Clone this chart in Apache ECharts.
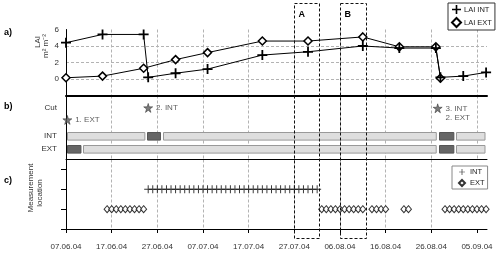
<!DOCTYPE html>
<html>
<head>
<meta charset="utf-8">
<script src="https://cdn.jsdelivr.net/npm/echarts@6/dist/echarts.min.js"></script>
<style>
  html, body { margin: 0; padding: 0; background: #fff; }
  #chart { width: 500px; height: 255px; }
</style>
</head>
<body>
<div id="chart"></div>
<script>
// all x values are days counted from 07.06.04
const startDate = Date.UTC(2004, 5, 7)
const dayMax = 92.2
const tickDays = [0, 10, 20, 30, 40, 50, 60, 70, 80, 90]

// a) LAI
const laiIntDays = [0, 8, 17, 18, 24, 31, 43, 53, 65, 73, 81, 82, 87, 92]
const laiIntValues = [4.4, 5.4, 5.4, 0.2, 0.7, 1.2, 2.9, 3.3, 4.0, 3.75, 3.75, 0.2, 0.35, 0.8]
const laiExtDays = [0, 8, 17, 24, 31, 43, 53, 65, 73, 81, 82]
const laiExtValues = [0.15, 0.35, 1.3, 2.35, 3.2, 4.6, 4.6, 5.1, 3.9, 3.9, 0.1]

// b) cuts and periods (dark = period right after a cut)
const rowNames = ['EXT', 'INT', 'Cut']
const rowLevels = [1.3, 3.0, 6.45]
const cutDays = [0.3, 18, 81.4]
const cutLevels = [4.95, 6.45, 6.4]
const cutLabels = ['1. EXT', '2. INT', '3. INT\n2. EXT']
const intPeriodStarts = [0, 17.6, 21.1, 81.5, 85.3]
const intPeriodEnds = [17.6, 21.1, 81.5, 85.3, dayMax]
const intPeriodDark = [0, 1, 0, 1, 0]
const extPeriodStarts = [0, 3.6, 81.5, 85.3]
const extPeriodEnds = [3.6, 81.5, 85.3, dayMax]
const extPeriodDark = [1, 0, 1, 0]

// c) measurement location
const measIntDays = [18, 19, 20, 21, 22, 23, 24, 25, 26, 27, 28, 29, 30, 31, 32, 33, 34, 35, 36,
  37, 38, 39, 40, 41, 42, 43, 44, 45, 46, 47, 48, 49, 50, 51, 52, 53, 54, 55]
const measExtDays = [9, 10, 11, 12, 13, 14, 15, 16, 17,
  56, 57, 58, 59, 60, 61, 62, 63, 64, 65,
  67, 68, 69, 70,
  74, 75,
  83, 84, 85, 86, 87, 88, 89, 90, 91, 92]

// highlighted periods
const boxNames = ['A', 'B']
const boxStarts = [50, 60]
const boxEnds = [55.5, 65.7]

const font = 'Liberation Sans, Arial, sans-serif'
const gridLine = { show: true, showMinLine: false, showMaxLine: false, lineStyle: { color: '#b3b3b3', type: [3, 2], width: 1 } }
const plusThick = 'path://M4.1,0H5.9V4.1H10V5.9H5.9V10H4.1V5.9H0V4.1H4.1Z'
const plusThin = 'path://M4.4,0H5.6V4.4H10V5.6H5.6V10H4.4V5.6H0V4.4H4.4Z'
const star = 'path://M50,0L61,35L98,35L68,57L79,91L50,70L21,91L32,57L2,35L39,35Z'

function pad(n) {
  return n < 10 ? '0' + n : '' + n
}
function dayLabel(v) {
  const d = new Date(startDate + v * 86400000)
  return pad(d.getUTCDate()) + '.' + pad(d.getUTCMonth() + 1) + '.' + String(d.getUTCFullYear()).slice(2)
}

function xAxisFor(gridIndex, extra) {
  return Object.assign({
    type: 'value',
    gridIndex: gridIndex,
    min: 0,
    max: dayMax,
    interval: 10,
    axisLine: { onZero: false, lineStyle: { color: '#000', width: 1 } },
    axisTick: { show: false },
    axisLabel: { show: false },
    splitLine: gridLine
  }, extra)
}

const periodData = []
intPeriodStarts.forEach((s, i) => periodData.push([rowLevels[1], s, intPeriodEnds[i], intPeriodDark[i]]))
extPeriodStarts.forEach((s, i) => periodData.push([rowLevels[0], s, extPeriodEnds[i], extPeriodDark[i]]))

const chart = echarts.init(document.getElementById('chart'))

chart.setOption({
  animation: false,
  textStyle: { fontFamily: font },
  grid: [
    { left: 66, right: 13, top: 29.5, height: 66 },
    { left: 66, right: 13, top: 95.5, height: 64 },
    { left: 66, right: 13, top: 159.5, height: 69.5 }
  ],
  xAxis: [
    xAxisFor(0, { axisLine: { onZero: false, lineStyle: { color: '#000', width: 2 } } }),
    xAxisFor(1),
    xAxisFor(2, {
      axisTick: { show: true, customValues: tickDays, length: 4, lineStyle: { color: '#000' } },
      axisLabel: {
        show: true,
        customValues: tickDays,
        fontSize: 8,
        color: '#333',
        margin: 14,
        formatter: dayLabel
      }
    })
  ],
  yAxis: [
    {
      type: 'value',
      gridIndex: 0,
      min: -2,
      max: 6,
      interval: 2,
      axisLine: { show: true, lineStyle: { color: '#000' } },
      axisTick: { show: false },
      axisLabel: { fontSize: 8, color: '#333', margin: 7, formatter: v => (v < 0 ? '' : v) },
      splitLine: gridLine
    },
    {
      type: 'value',
      gridIndex: 1,
      min: 0,
      max: 8,
      axisLine: { show: true, lineStyle: { color: '#000' } },
      axisTick: { show: false },
      axisLabel: {
        customValues: rowLevels,
        fontSize: 8,
        color: '#333',
        margin: 9,
        formatter: v => rowNames[rowLevels.indexOf(v)]
      },
      splitLine: { show: false }
    },
    {
      type: 'value',
      gridIndex: 2,
      min: 0,
      max: 3.5,
      axisLine: { show: true, lineStyle: { color: '#000' } },
      axisTick: { show: true, customValues: [0, 1, 2, 3], length: 5, lineStyle: { color: '#000' } },
      axisLabel: { show: false },
      splitLine: { show: false }
    }
  ],
  legend: [
    {
      left: 448,
      top: 3,
      orient: 'vertical',
      padding: [2, 3, 2, 3],
      itemGap: 3,
      itemWidth: 9,
      itemHeight: 9,
      borderColor: '#333',
      borderWidth: 1,
      backgroundColor: '#fff',
      textStyle: { fontSize: 7.5, color: '#222', padding: [0, 0, 0, -2] },
      data: [
        { name: 'LAI INT', icon: plusThick },
        { name: 'LAI EXT', icon: 'diamond' }
      ]
    },
    {
      left: 452,
      top: 166,
      orient: 'vertical',
      padding: [2, 3, 2, 6],
      itemGap: 3,
      itemWidth: 6,
      itemHeight: 6,
      borderColor: '#888',
      borderWidth: 1,
      backgroundColor: '#fff',
      textStyle: { fontSize: 7.5, color: '#222' },
      data: [
        { name: 'INT', icon: plusThin },
        { name: 'EXT', icon: 'diamond' }
      ]
    }
  ],
  series: [
    {
      name: 'LAI INT',
      type: 'line',
      xAxisIndex: 0,
      yAxisIndex: 0,
      data: laiIntDays.map((d, i) => [d, laiIntValues[i]]),
      symbol: plusThick,
      symbolSize: 10,
      itemStyle: { color: '#000' },
      lineStyle: { color: '#000', width: 1 },
      z: 3
    },
    {
      name: 'LAI EXT',
      type: 'line',
      xAxisIndex: 0,
      yAxisIndex: 0,
      data: laiExtDays.map((d, i) => [d, laiExtValues[i]]),
      symbol: 'diamond',
      symbolSize: 8,
      itemStyle: { color: '#fff', borderColor: '#000', borderWidth: 1.5 },
      lineStyle: { color: '#000', width: 1 },
      z: 2
    },
    {
      name: 'periods',
      type: 'custom',
      xAxisIndex: 1,
      yAxisIndex: 1,
      encode: { x: [1, 2], y: 0 },
      data: periodData,
      renderItem(params, api) {
        const y = api.value(0)
        const p0 = api.coord([api.value(1), y])
        const p1 = api.coord([api.value(2), y])
        const h = api.size([0, 0.95])[1]
        const dark = api.value(3) === 1
        return {
          type: 'rect',
          shape: { x: Math.round(p0[0]) + 1.5, y: Math.round(p0[1] - h / 2) + 0.5, width: p1[0] - p0[0] - 3, height: h },
          style: { fill: dark ? '#666' : '#dedede', stroke: dark ? '#555' : '#999', lineWidth: 1 }
        }
      }
    },
    {
      name: 'Cut',
      type: 'scatter',
      xAxisIndex: 1,
      yAxisIndex: 1,
      symbol: star,
      symbolSize: 9,
      itemStyle: { color: '#5a5a5a', borderColor: '#222', borderWidth: 0.6 },
      data: cutDays.map((d, i) => ({
        value: [d, cutLevels[i]],
        label: {
          show: true,
          position: 'right',
          distance: 3,
          formatter: cutLabels[i],
          fontSize: 8,
          lineHeight: 9,
          color: '#333',
          offset: i === 2 ? [0, 4.5] : [0, 0]
        }
      }))
    },
    {
      name: 'INT',
      type: 'scatter',
      xAxisIndex: 2,
      yAxisIndex: 2,
      symbol: plusThin,
      symbolSize: 8,
      itemStyle: { color: '#000' },
      data: measIntDays.map(d => [d, 2])
    },
    {
      name: 'EXT',
      type: 'scatter',
      xAxisIndex: 2,
      yAxisIndex: 2,
      symbol: 'diamond',
      symbolSize: [6, 7],
      itemStyle: { color: '#fff', borderColor: '#000', borderWidth: 1 },
      data: measExtDays.map(d => [d, 1])
    }
  ]
})

// texts and the dashed boxes A / B
function addGraphics() {
  const elements = []
  const panelLabels = [['a)', 33], ['b)', 107], ['c)', 181]]
  panelLabels.forEach(p => {
    elements.push({
      type: 'text', x: 4, y: p[1],
      style: { text: p[0], fontSize: 9, fontWeight: 'bold', fontFamily: font, fill: '#000', verticalAlign: 'middle' }
    })
  })
  const axisNames = [['LAI', 38, 42], ['m² m⁻²', 46, 46], ['Measurement', 31, 188], ['location', 40, 193]]
  axisNames.forEach(n => {
    elements.push({
      type: 'text', x: n[1], y: n[2], rotation: Math.PI / 2,
      style: { text: n[0], fontSize: 8, fontFamily: font, fill: '#333', align: 'center', verticalAlign: 'middle' }
    })
  })
  boxNames.forEach((name, i) => {
    const x0 = Math.round(chart.convertToPixel({ xAxisIndex: 2 }, boxStarts[i])) + 0.5
    const x1 = Math.round(chart.convertToPixel({ xAxisIndex: 2 }, boxEnds[i])) + 0.5
    elements.push({
      type: 'rect', z: 10,
      shape: { x: x0, y: 3.5, width: x1 - x0, height: 235 },
      style: { fill: 'none', stroke: '#111', lineWidth: 1, lineDash: [3, 2] }
    })
    elements.push({
      type: 'text', z: 10, x: x0 + 4, y: 15,
      style: { text: name, fontSize: 9, fontWeight: 'bold', fontFamily: font, fill: '#000', verticalAlign: 'middle' }
    })
  })
  chart.setOption({ graphic: elements })
}
addGraphics()
</script>
</body>
</html>
